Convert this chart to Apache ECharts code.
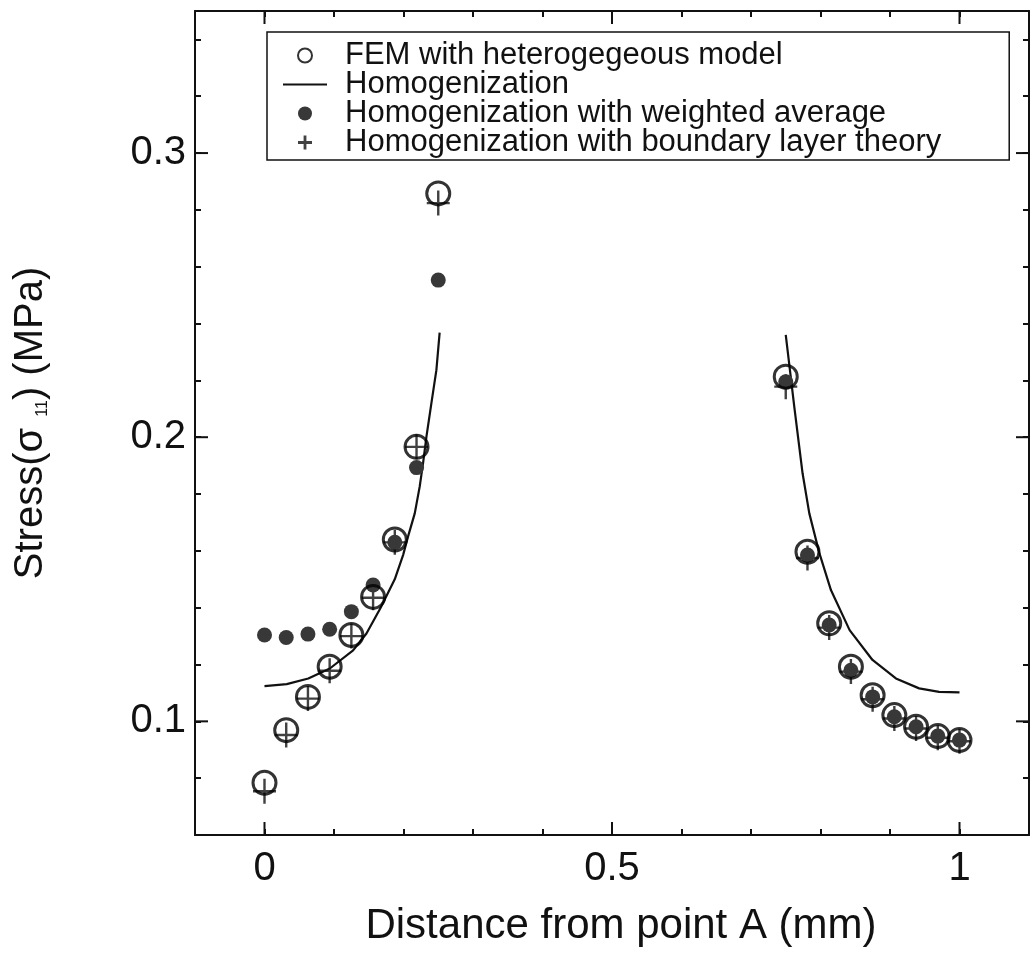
<!DOCTYPE html>
<html><head><meta charset="utf-8">
<script src="https://cdn.jsdelivr.net/npm/echarts@6/dist/echarts.min.js"></script>
<style>html,body{margin:0;padding:0;background:#fff}#c{width:1030px;height:959px}</style>
</head><body><div id="c"></div>
<script>
// ---- data ----
const xLeft  = [0, 0.03125, 0.0625, 0.09375, 0.125, 0.15625, 0.1875, 0.21875, 0.25];
const xRight = [0.75, 0.78125, 0.8125, 0.84375, 0.875, 0.90625, 0.9375, 0.96875, 1];

const femLeft  = [0.0784, 0.0969, 0.1086, 0.1192, 0.1304, 0.1438, 0.1640, 0.1966, 0.2858];
const femRight = [0.2213, 0.1597, 0.1345, 0.1192, 0.1092, 0.1022, 0.0981, 0.0948, 0.0934];

const wavgLeft  = [0.1304, 0.1295, 0.1307, 0.1324, 0.1386, 0.1480, 0.1630, 0.1893, 0.2553];
const wavgRight = [0.2195, 0.1585, 0.1339, 0.1180, 0.1086, 0.1016, 0.0981, 0.0948, 0.0934];

const blLeft  = [0.0754, 0.0952, 0.1080, 0.1178, 0.1300, 0.1435, 0.1630, 0.1966, 0.2824];
const blRight = [0.2178, 0.1575, 0.1330, 0.1175, 0.1078, 0.1010, 0.0975, 0.0942, 0.0930];

const homLeftX  = [0, 0.032, 0.063, 0.094, 0.1275, 0.1467, 0.1671, 0.1874, 0.1994, 0.2065, 0.2162, 0.2233, 0.2281, 0.233, 0.2401, 0.2473, 0.252];
const homLeftY  = [0.1124, 0.1131, 0.1151, 0.1186, 0.1250, 0.1309, 0.1400, 0.1500, 0.1585, 0.1650, 0.1732, 0.1826, 0.1908, 0.2002, 0.2119, 0.2236, 0.2368];
const homRightX = [0.75, 0.7623, 0.7742, 0.7839, 0.7985, 0.815, 0.8419, 0.8748, 0.9085, 0.9419, 0.9706, 1.0];
const homRightY = [0.2360, 0.2107, 0.1873, 0.1732, 0.1591, 0.1462, 0.1321, 0.1216, 0.1151, 0.1116, 0.1104, 0.1102];

const xRange = [-0.1, 1.1];
const yRange = [0.06, 0.35];
const xMajorTicks = [0, 0.5, 1];
const yMajorTicks = [0.1, 0.2, 0.3];

const seriesNames = [
  'FEM with heterogegeous model',
  'Homogenization',
  'Homogenization with weighted average',
  'Homogenization with boundary layer theory'
];
const xTitle = 'Distance from point A (mm)';

// ---- build ----
const FONT = "'Liberation Sans', Arial, Helvetica, sans-serif";
const INK = '#111';
const pair = (xs, ys) => xs.map((x, i) => [x, ys[i]]);
const femData = pair(xLeft, femLeft).concat(pair(xRight, femRight));
const wavgData = pair(xLeft, wavgLeft).concat(pair(xRight, wavgRight));
const blData = pair(xLeft, blLeft).concat(pair(xRight, blRight));
const homData = pair(homLeftX, homLeftY).concat([[0.5, '-']], pair(homRightX, homRightY));

const near = (v, list) => list.find(t => Math.abs(v - t) < 1e-7);
const fmtX = v => { const t = near(v, xMajorTicks); return t === undefined ? '' : String(t); };
const fmtY = v => { const t = near(v, yMajorTicks); return t === undefined ? '' : String(t); };

const PLUS = 'path://M-11.5,-1.2H11.5V1.2H-11.5Z M-1.2,-12.5H1.2V12.5H-1.2Z';
const LEG_PLUS = 'path://M-7,-1.4H7V1.4H-7Z M-1.4,-7H1.4V7H-1.4Z';
const LEG_LINE = 'path://M0,0H44V2H0Z';
const MAJOR = 13;

function yMajorRender(params, api) {
  const a = api.coord([xRange[0], api.value(1)]);
  const b = api.coord([xRange[1], api.value(1)]);
  const st = { stroke: INK, lineWidth: 2 };
  return { type: 'group', children: [
    { type: 'line', shape: { x1: a[0], y1: a[1], x2: a[0] + MAJOR, y2: a[1] }, style: st },
    { type: 'line', shape: { x1: b[0], y1: b[1], x2: b[0] - MAJOR, y2: b[1] }, style: st }
  ]};
}
function xMajorRender(params, api) {
  const a = api.coord([api.value(0), yRange[0]]);
  const b = api.coord([api.value(0), yRange[1]]);
  const st = { stroke: INK, lineWidth: 2 };
  return { type: 'group', children: [
    { type: 'line', shape: { x1: a[0], y1: a[1], x2: a[0], y2: a[1] - MAJOR }, style: st },
    { type: 'line', shape: { x1: b[0], y1: b[1], x2: b[0], y2: b[1] + MAJOR }, style: st }
  ]};
}

const axisLine = { show: true, onZero: false, lineStyle: { color: INK, width: 2 } };
const axisTick = { show: true, inside: true, length: 6, lineStyle: { color: INK, width: 2 } };

const chart = echarts.init(document.getElementById('c'), null, { renderer: 'canvas' });
chart.setOption({
  animation: false,
  backgroundColor: '#fff',
  grid: { left: 195, right: 1, top: 11, bottom: 124, containLabel: false, outerBoundsMode: 'none' },
  legend: {
    orient: 'vertical', left: 267, top: 32,
    padding: [8, 68, 2, 16],
    itemGap: -2, itemWidth: 44, itemHeight: 14,
    borderColor: INK, borderWidth: 1.5,
    data: [
      { name: seriesNames[0] },
      { name: seriesNames[1], icon: LEG_LINE },
      { name: seriesNames[2] },
      { name: seriesNames[3], icon: LEG_PLUS }
    ],
    textStyle: { fontSize: 31, lineHeight: 29, color: INK, fontFamily: FONT, padding: [0, 0, 0, 13] }
  },
  xAxis: [
    { type: 'value', min: xRange[0], max: xRange[1], interval: 0.1, position: 'bottom',
      axisLine, axisTick, splitLine: { show: false },
      axisLabel: { formatter: fmtX, fontSize: 40, color: INK, fontFamily: FONT, margin: 14, showMinLabel: true, showMaxLabel: true },
      name: xTitle, nameLocation: 'middle', nameGap: 70,
      nameTextStyle: { fontSize: 42, color: INK, fontFamily: FONT, padding: [0, 0, 0, 18] } },
    { type: 'value', min: xRange[0], max: xRange[1], interval: 0.1, position: 'top',
      axisLine, axisTick, splitLine: { show: false }, axisLabel: { show: false } }
  ],
  yAxis: [
    { type: 'value', min: yRange[0], max: yRange[1], interval: 0.02, position: 'left',
      axisLine, axisTick, splitLine: { show: false },
      axisLabel: { formatter: fmtY, fontSize: 40, color: INK, fontFamily: FONT, margin: 9 },
      name: '{a|Stress(σ }{s|11}{a|) (MPa)}', nameLocation: 'middle', nameRotate: 90, nameGap: 144,
      nameTextStyle: { rich: {
        a: { fontSize: 40, color: INK, fontFamily: FONT },
        s: { fontSize: 16, color: INK, fontFamily: FONT, verticalAlign: 'bottom' }
      } } },
    { type: 'value', min: yRange[0], max: yRange[1], interval: 0.02, position: 'right',
      axisLine, axisTick, splitLine: { show: false }, axisLabel: { show: false } }
  ],
  series: [
    { name: seriesNames[1], type: 'line', data: homData, symbol: 'none', showSymbol: false,
      connectNulls: false, smooth: false,
      lineStyle: { color: INK, width: 2.2 }, itemStyle: { color: INK }, z: 2 },
    { name: seriesNames[3], type: 'scatter', data: blData, symbol: PLUS, symbolSize: [23, 25],
      symbolKeepAspect: false, itemStyle: { color: INK }, z: 3 },
    { name: seriesNames[2], type: 'scatter', data: wavgData, symbol: 'circle', symbolSize: 15,
      itemStyle: { color: '#383838', opacity: 1 }, z: 4 },
    { name: seriesNames[0], type: 'scatter', data: femData, symbol: 'circle', symbolSize: 23,
      itemStyle: { color: 'rgba(0,0,0,0)', borderColor: '#000', borderWidth: 3 }, z: 5 },
    { type: 'custom', renderItem: yMajorRender, data: yMajorTicks.map(v => [xRange[0], v]), clip: false, silent: true, z: 6 },
    { type: 'custom', renderItem: xMajorRender, data: xMajorTicks.map(v => [v, yRange[0]]), clip: false, silent: true, z: 6 }
  ]
});
</script></body></html>
